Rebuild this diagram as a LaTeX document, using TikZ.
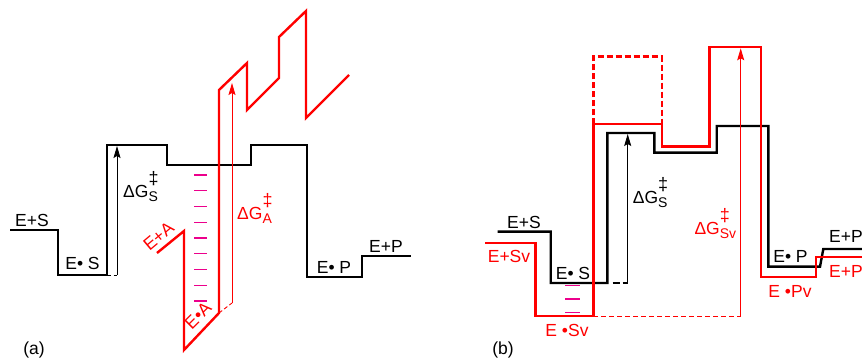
\documentclass[tikz,border=0pt]{standalone}
\usepackage{fontspec}
\setmainfont{Liberation Sans}
\usetikzlibrary{arrows.meta}

% delta G label with stacked subscript and double dagger
\newcommand{\dGlab}[1]{ΔG\rlap{\raisebox{13pt}{\fontsize{18}{18}\selectfont ‡}}\raisebox{-3.8pt}{\fontsize{14}{14}\selectfont #1}}

\begin{document}
\begin{tikzpicture}[
  x=1pt,y=-1pt,
  font=\fontsize{17.5}{20}\selectfont,
  >={Stealth[length=12pt,width=7pt,inset=2pt]},
  lvl/.style={line width=2.4pt},
  blk/.style={lvl,black},
  rd/.style={lvl,red},
  bar/.style={->,line width=0.9pt},
  ext/.style={line width=0.9pt,dash pattern=on 4pt off 2.5pt},
  rung/.style={line width=1.2pt,magenta},
  lab/.style={inner sep=0pt},
  dlab/.style={inner sep=0pt,anchor=base west}
]
\clip (0,0) rectangle (862,363);

% ================= (a) =================
% profil substrat
\draw[blk] (10,230) -- (58,230) -- (58,275) coordinate (aES) -- (107,275)
  -- (107,145) -- (167,145) -- (167,165) -- (251,165) -- (251,145)
  -- (307,145) -- (307,277) -- (362,277) -- (362,256) -- (411,256);
% profil analog (rupt sus)
\draw[rd] (157,253) -- (184,231) -- (184,350) -- (219,313) coordinate (aEA)
  -- (219,90) -- (247,63) -- (247,110) -- (279,78) -- (279,37)
  -- (306,11) -- (306,118) -- (349,75);
% bariere
\coordinate (aSb) at (117,275);
\coordinate (aSt) at (117,146);
\draw[ext] (107,275) -- (aSb);
\draw[bar] (aSb) -- (aSt);
\coordinate (aAb) at (232,303);
\coordinate (aAt) at (232,83);
\draw[ext,red] (aEA) -- (aAb);
\draw[bar,red] (aAb) -- (aAt);
% trepte intermediare
\foreach \yy in {175,190.75,...,302} \draw[rung] (194,\yy) -- (207,\yy);

\node[lab] (aES1) at (32,220) {E+S};
\node[lab] (aES2) at (82.5,263.5) {E• S};
\node[lab] (aEP1) at (334,267) {E• P};
\node[lab] (aEP2) at (386,246) {E+P};
\node[dlab] (adS) at (123,198) {\dGlab{S}};
\node[dlab,red] (adA) at (237,220) {\dGlab{A}};
\node[lab,red,rotate=40] (aEA1) at (158.5,236.5) {E+A};
\node[lab,red,rotate=45] (aEA2) at (198,315.5) {E•A};
\node[lab] (alab) at (34,350) {(a)};

% ================= (b) =================
\draw[blk] (497.7,231.7) -- (550.7,231.7) -- (550.7,283) -- (607.3,283)
  -- (607.3,133) -- (654.3,133) -- (654.3,152.7) -- (716.7,152.7)
  -- (716.7,126) -- (768.3,126) -- (768.3,266.7) -- (820,266.7)
  -- (823.3,249) -- (870,249);
\draw[rd] (485,243.3) -- (535.3,243.3) -- (535.3,316) coordinate (bSvl)
  -- (593.3,316) coordinate (bSvr) -- (593.3,124.3) -- (661.7,124.3)
  -- (661.7,146.7) -- (709.3,146.7) -- (709.3,47.3) -- (761,47.3)
  -- (761,277.3) -- (815.7,277.3) -- (815.7,257) -- (870,257);
% barrier fara vascozitate
\draw[rd,dash pattern=on 6pt off 3pt] (593.3,124.3) -- (593.3,56.7)
  -- (661.7,56.7) -- (661.7,124.3);
% bariere
\coordinate (bSb) at (627.7,283);
\coordinate (bSt) at (627.7,134);
\draw[blk,dash pattern=on 7pt off 3pt] (612.7,283) -- (bSb);
\draw[bar] (bSb) -- (bSt);
\coordinate (bVb) at (740.7,316);
\coordinate (bVt) at (740.7,48.3);
\draw[red,line width=0.9pt,dash pattern=on 5pt off 3pt] (bSvr) -- (bVb);
\draw[bar,red] (bVb) -- (bVt);
\foreach \yy in {285.7,299,312.3} \draw[rung] (565,\yy) -- (580,\yy);

\node[lab] (bES1) at (524,222) {E+S};
\node[lab,red] (bESv1) at (509,256) {E+Sv};
\node[lab] (bES2) at (573,273) {E• S};
\node[lab,red] (bESv2) at (567,330) {E •Sv};
\node[dlab] (bdS) at (632.7,203.3) {\dGlab{S}};
\node[dlab,red] (bdSv) at (694.3,235) {\dGlab{Sv}};
\node[lab] (bEP1) at (790.5,256.5) {E• P};
\node[lab,anchor=west] (bEP2) at (829,236.5) {E+P};
\node[lab,red,anchor=west] (bEPv2) at (829,271.5) {E+Pv};
\node[lab,red] (bEPv1) at (790,291.7) {E •Pv};
\node[lab] (blab) at (503,350) {(b)};
\end{tikzpicture}
\end{document}
